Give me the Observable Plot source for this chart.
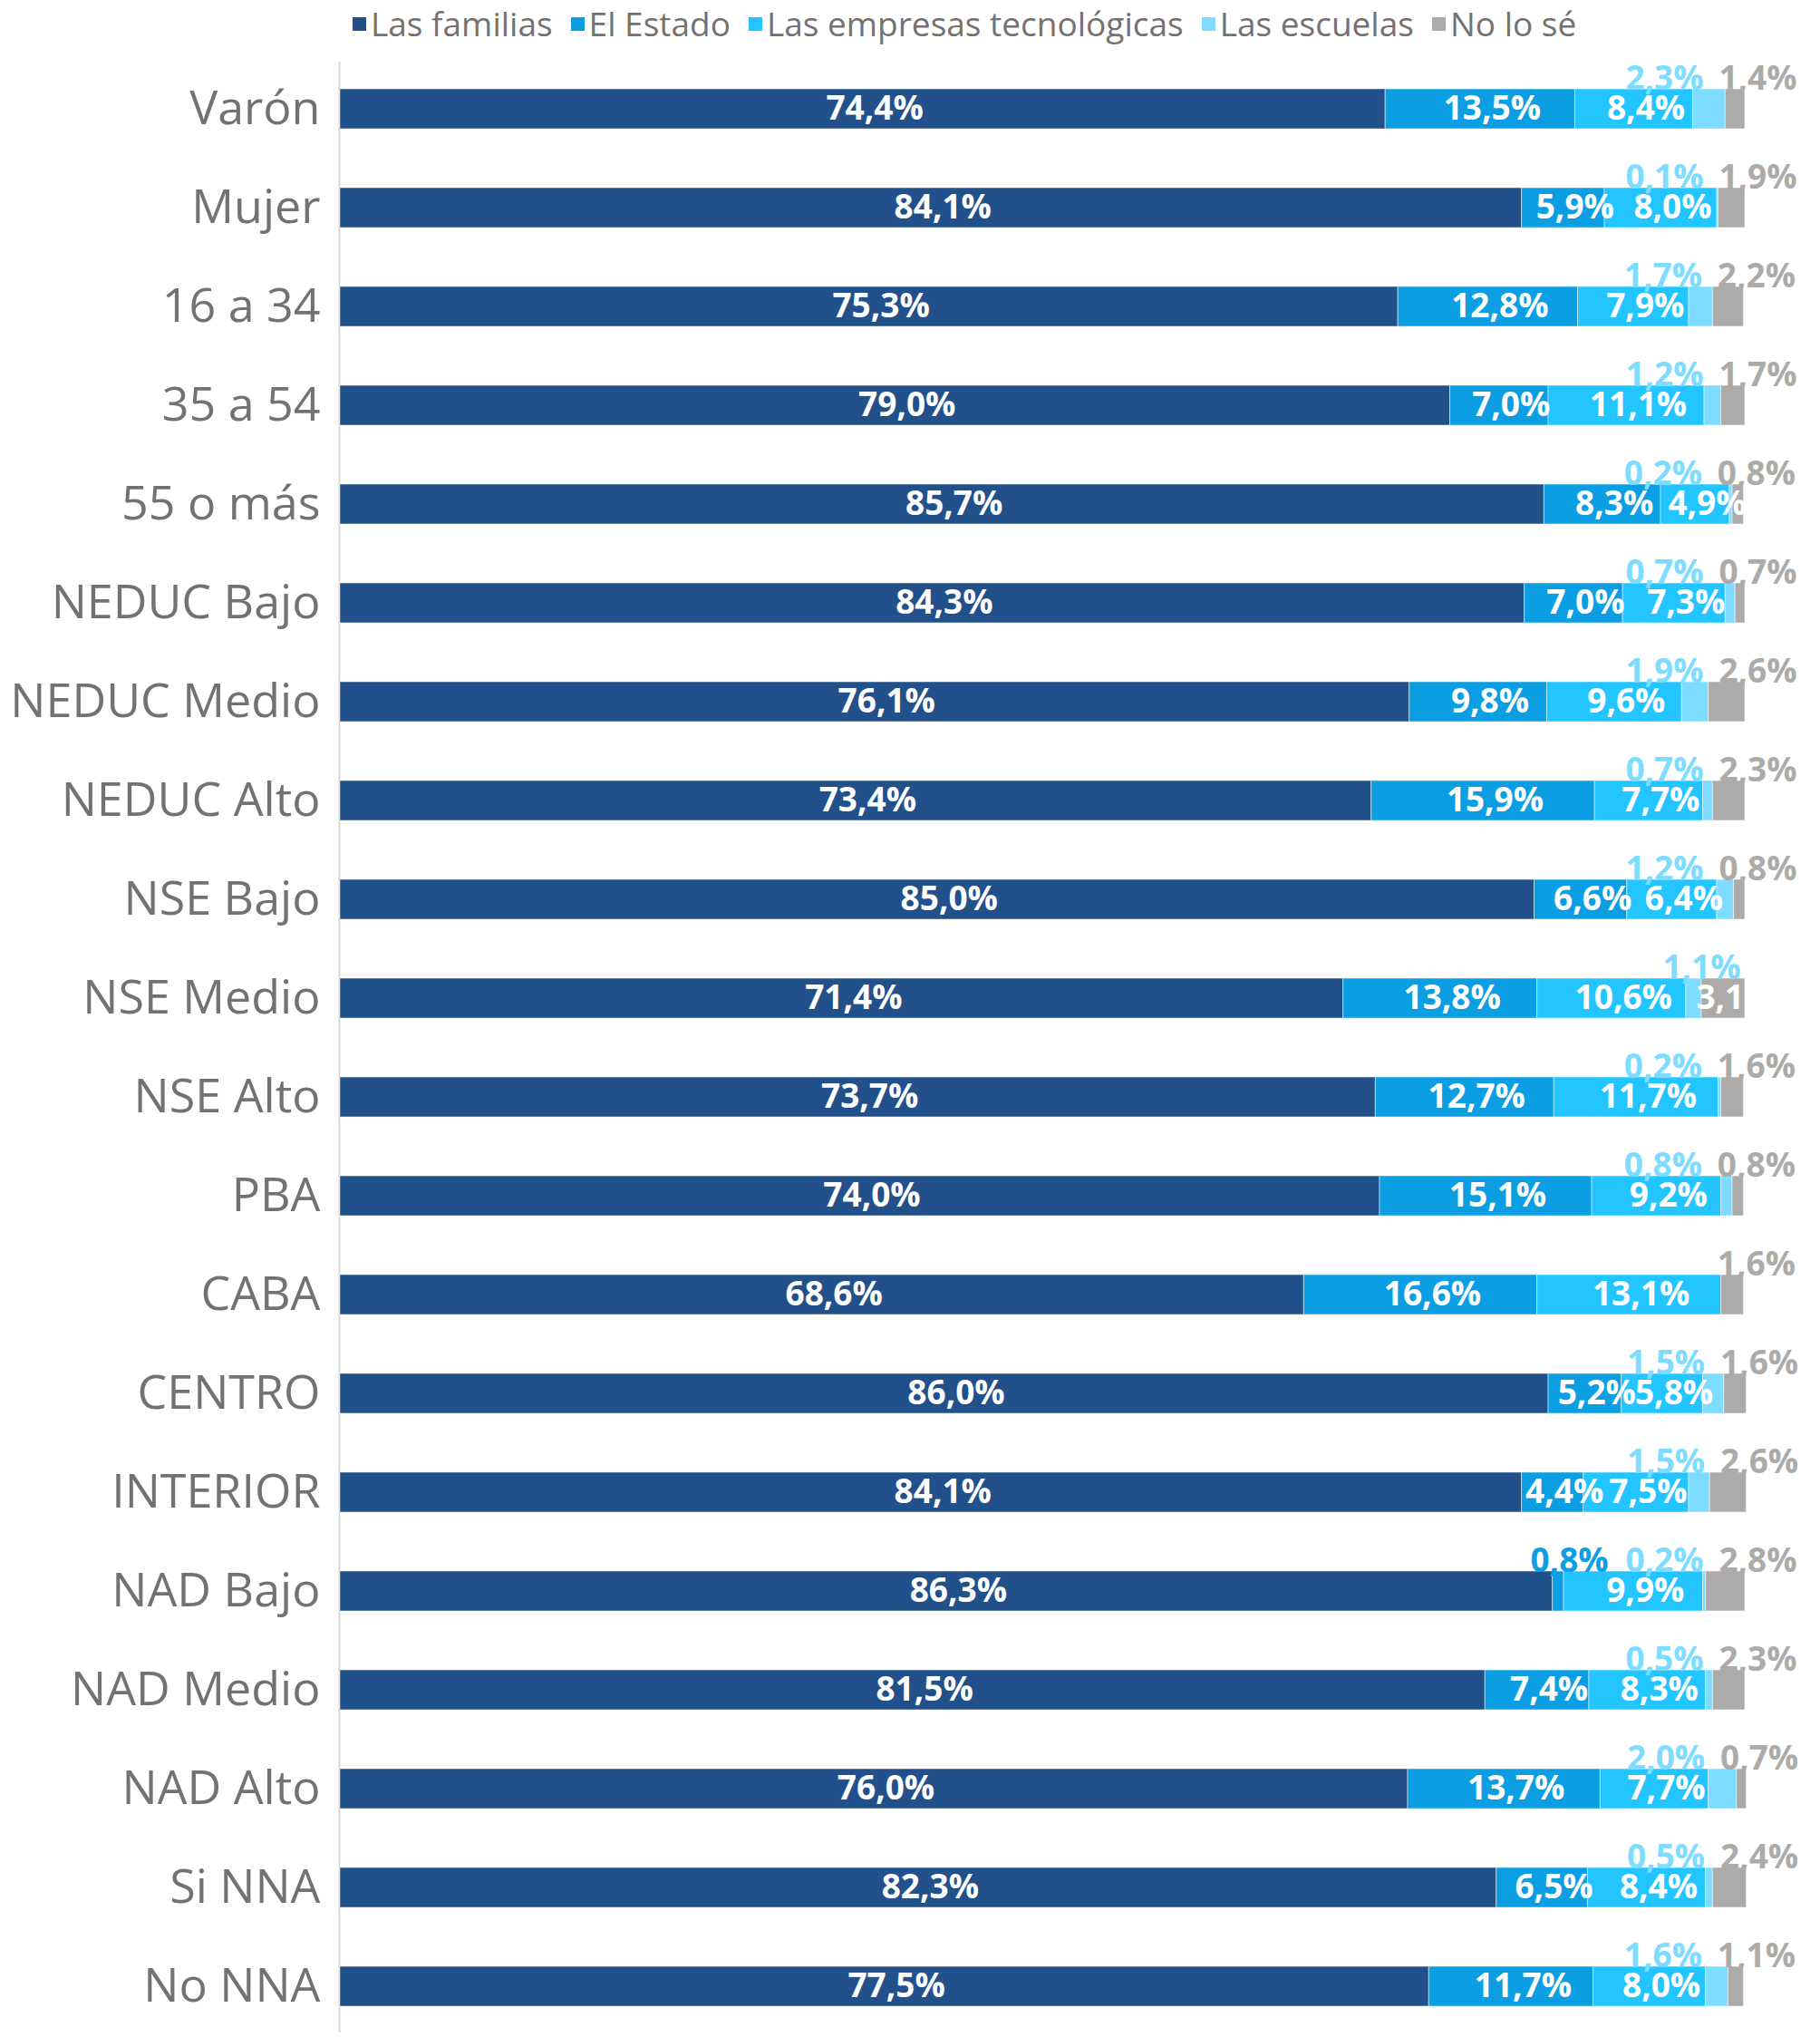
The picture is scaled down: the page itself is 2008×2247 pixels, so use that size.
<!DOCTYPE html>
<html>
<head>
<meta charset="utf-8">
<script src="https://cdn.jsdelivr.net/npm/d3@7"></script>
<script src="https://cdn.jsdelivr.net/npm/@observablehq/plot@0.6"></script>
<style>
  html, body { margin: 0; padding: 0; background: #ffffff; }
  #legend { height: 52px; box-sizing: border-box; padding-left: 389px; padding-top: 3px; overflow: hidden; }
  #legend > div { font-family: "Open Sans", sans-serif !important; font-size: 37px !important; color: #767171 !important; margin: 0 !important; min-height: 0 !important; line-height: 46px; }
  #legend span { margin-right: 20px !important; font-size: 37px !important; }
  #legend span > svg { margin-right: 5px !important; }
  #chart svg { display: block; }
</style>
</head>
<body>
<div id="legend"></div>
<div id="chart"></div>
<script>
const categories = ["Varón", "Mujer", "16 a 34", "35 a 54", "55 o más", "NEDUC Bajo", "NEDUC Medio", "NEDUC Alto",
  "NSE Bajo", "NSE Medio", "NSE Alto", "PBA", "CABA", "CENTRO", "INTERIOR", "NAD Bajo", "NAD Medio", "NAD Alto",
  "Si NNA", "No NNA"];
const series = ["Las familias", "El Estado", "Las empresas tecnológicas", "Las escuelas", "No lo sé"];
const colors = ["#22508a", "#0b9ee3", "#22c5ff", "#7ddcff", "#acabaa"];

const familias = [74.4, 84.1, 75.3, 79.0, 85.7, 84.3, 76.1, 73.4, 85.0, 71.4, 73.7, 74.0, 68.6, 86.0, 84.1, 86.3, 81.5, 76.0, 82.3, 77.5];
const estado   = [13.5, 5.9, 12.8, 7.0, 8.3, 7.0, 9.8, 15.9, 6.6, 13.8, 12.7, 15.1, 16.6, 5.2, 4.4, 0.8, 7.4, 13.7, 6.5, 11.7];
const empresas = [8.4, 8.0, 7.9, 11.1, 4.9, 7.3, 9.6, 7.7, 6.4, 10.6, 11.7, 9.2, 13.1, 5.8, 7.5, 9.9, 8.3, 7.7, 8.4, 8.0];
const escuelas = [2.3, 0.1, 1.7, 1.2, 0.2, 0.7, 1.9, 0.7, 1.2, 1.1, 0.2, 0.8, 0.0, 1.5, 1.5, 0.2, 0.5, 2.0, 0.5, 1.6];
const noLoSe   = [1.4, 1.9, 2.2, 1.7, 0.8, 0.7, 2.6, 2.3, 0.8, 3.1, 1.6, 0.8, 1.6, 1.6, 2.6, 2.8, 2.3, 0.7, 2.4, 1.1];

const seriesValues = [familias, estado, empresas, escuelas, noLoSe];

const rows = [];
categories.forEach((c, i) => {
  let acc = 0;
  const total = d3.sum(seriesValues, s => s[i]);
  series.forEach((s, j) => {
    const v = seriesValues[j][i];
    rows.push({cat: c, serie: s, si: j, value: v, x1: acc, x2: acc + v, total, nose: noLoSe[i]});
    acc += v;
  });
});

const fmt = v => v.toFixed(1).replace(".", ",") + "%";
const small = 3;
const inside = rows.filter(d => d.value >= small);
const above = rows.filter(d => d.value > 0 && d.value < small);

const labelFont = {fontFamily: "Open Sans", fontWeight: 700, fontSize: 37};
const aboveDy = -33;

const legend = Plot.legend({
  color: {type: "ordinal", domain: series, range: colors},
  swatchSize: 15,
  style: {fontFamily: "Open Sans", fontSize: "37px", color: "#767171"}
});
document.getElementById("legend").appendChild(legend);

const chart = Plot.plot({
  width: 2008,
  height: 2195,
  marginLeft: 375,
  marginRight: 83,
  marginTop: 16,
  marginBottom: 5,
  style: {fontFamily: "Open Sans", background: "white"},
  x: {domain: [0, 100], axis: null},
  y: {domain: categories, paddingInner: 0.6, paddingOuter: 0.25, label: null, axis: null},
  color: {domain: series, range: colors},
  marks: [
    Plot.ruleX([0], {stroke: "#d9d9d9", strokeWidth: 2, dx: -1}),
    Plot.barX(rows, {x1: "x1", x2: "x2", y: "cat", fill: "serie", stroke: "white", strokeWidth: 1, strokeOpacity: 0.5}),
    Plot.text(inside, {x: d => (d.x1 + d.x2) / 2, y: "cat", text: d => fmt(d.value), fill: "white", dx: 13, clip: true, ...labelFont}),
    // El Estado (small)
    Plot.text(above.filter(d => d.si === 1), {x: "x2", y: "cat", text: d => fmt(d.value), fill: colors[1], dx: 6, dy: aboveDy, textAnchor: "middle", ...labelFont}),
    // Las escuelas, when "No lo sé" label sits above too
    Plot.text(above.filter(d => d.si === 3 && d.nose < small), {x: "total", y: "cat", text: d => fmt(d.value), fill: colors[3], dx: -89, dy: aboveDy, textAnchor: "middle", ...labelFont}),
    // Las escuelas, when "No lo sé" label sits inside the bar
    Plot.text(above.filter(d => d.si === 3 && d.nose >= small), {x: "total", y: "cat", text: d => fmt(d.value), fill: colors[3], dx: -48, dy: aboveDy, textAnchor: "middle", ...labelFont}),
    // No lo sé (small)
    Plot.text(above.filter(d => d.si === 4), {x: "total", y: "cat", text: d => fmt(d.value), fill: colors[4], dx: 14, dy: aboveDy, textAnchor: "middle", ...labelFont}),
    Plot.axisY({tickSize: 0, tickPadding: 22, fontSize: 52, fill: "#767171", label: null, fontFamily: "Open Sans"})
  ]
});
document.getElementById("chart").appendChild(chart);
</script>
</body>
</html>
